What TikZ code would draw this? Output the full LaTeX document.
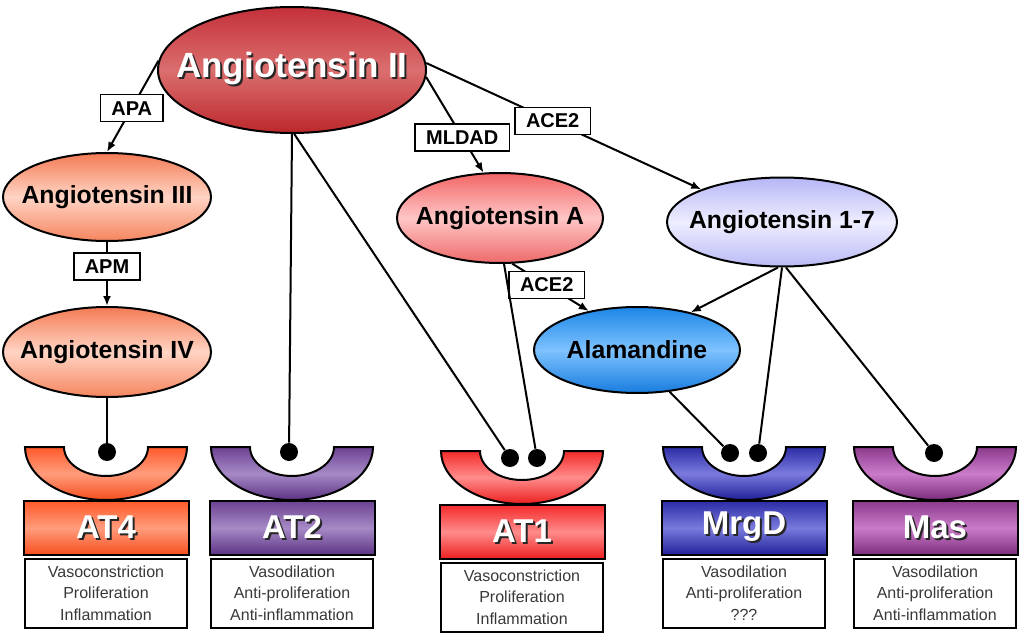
\documentclass[tikz,border=0pt]{standalone}
\usepackage{fontspec}
\setmainfont{Liberation Sans}
\usetikzlibrary{shapes.geometric, arrows.meta}

% Peptide colours (top / middle / bottom)
\definecolor{topangII}{HTML}{C4303A}
\definecolor{midangII}{HTML}{DA6E6E}
\definecolor{botangII}{HTML}{BC282C}
\definecolor{topangIII}{HTML}{F47B55}
\definecolor{midangIII}{HTML}{FFD4C4}
\definecolor{botangIII}{HTML}{F5855F}
\definecolor{topangA}{HTML}{F26565}
\definecolor{midangA}{HTML}{FFC6C6}
\definecolor{botangA}{HTML}{EE6A6A}
\definecolor{topang17}{HTML}{B6B6F6}
\definecolor{midang17}{HTML}{EEEEFF}
\definecolor{botang17}{HTML}{BABAF6}
\definecolor{topalam}{HTML}{1C86E6}
\definecolor{midalam}{HTML}{7EC2FF}
\definecolor{botalam}{HTML}{187CDE}

% Receptor colours (top / middle / bottom)
\definecolor{topat4}{HTML}{FF5A2A}
\definecolor{midat4}{HTML}{FF9C7C}
\definecolor{botat4}{HTML}{F64E1E}
\definecolor{topat2}{HTML}{6C4292}
\definecolor{midat2}{HTML}{A68AC6}
\definecolor{botat2}{HTML}{5C3284}
\definecolor{topat1}{HTML}{F42A2A}
\definecolor{midat1}{HTML}{FF8C8C}
\definecolor{botat1}{HTML}{EC1E1E}
\definecolor{topmrgd}{HTML}{2C2CA6}
\definecolor{midmrgd}{HTML}{7A7ADE}
\definecolor{botmrgd}{HTML}{202098}
\definecolor{topmas}{HTML}{8C3A8C}
\definecolor{midmas}{HTML}{CA7CCA}
\definecolor{botmas}{HTML}{7C2C7C}

\newcommand{\shadowed}[1]{\makebox[0pt][l]{\hspace{1pt}\raisebox{-1pt}{\textcolor{black!85}{#1}}}\textcolor{white}{#1}}
\newcommand{\pep}[1]{\makebox[0pt]{#1}}

\tikzset{
  peptide/.style={ellipse, draw, line width=1pt, inner sep=0pt,
    font=\bfseries\fontsize{12.4}{14}\selectfont},
  enzyme/.style={rectangle, draw, line width=0.8pt, fill=white, inner xsep=5.5pt,
    inner ysep=0pt, minimum height=13.5pt, font=\bfseries\fontsize{10}{12}\selectfont},
  receptor/.style={rectangle, draw, line width=1pt, minimum width=82.5pt,
    minimum height=27pt, font=\bfseries\fontsize{16.5}{18}\selectfont},
  effect/.style={rectangle, draw, line width=1pt, minimum width=81pt, minimum height=34.5pt,
    inner ysep=1pt, align=center, text=black!78, font=\fontsize{8}{10.85}\selectfont},
  ligand/.style={circle, fill=black, inner sep=0pt, minimum size=9pt},
  link/.style={line width=1pt},
  cleave/.style={line width=1pt, -{Latex[length=5pt, width=4pt]}},
}

\begin{document}
\begin{tikzpicture}[x=0.5pt, y=-0.5pt]
    \useasboundingbox (0,0) rectangle (1024,637);

    % Receptors: cup, name box and effects
    \foreach \name/\c/\t/\lbl/\la/\lb/\lc in {
        at4/106/447/AT4/Vasoconstriction/Proliferation/Inflammation,
        at2/292/447/AT2/Vasodilation/Anti-proliferation/Anti-inflammation,
        at1/522/451/AT1/Vasoconstriction/Proliferation/Inflammation,
        mrgd/744/447/MrgD/Vasodilation/Anti-proliferation/???,
        mas/935/447/Mas/Vasodilation/Anti-proliferation/Anti-inflammation} {
      \draw[line width=1pt, top color=top\name, bottom color=bot\name, middle color=mid\name]
        (\c-81,\t) -- (\c-42,\t) arc[start angle=180, end angle=0, x radius=42, y radius=29]
        -- (\c+81,\t) arc[start angle=0, end angle=180, x radius=81, y radius=53] -- cycle;
      \node[receptor, top color=top\name, bottom color=bot\name, middle color=mid\name]
        (\name) at (\c,\t+81) {\shadowed{\lbl}};
      \node[effect] (\name fx) at (\c,\t+146) {\la\\\lb\\\lc};
    }

    % Peptides
    \node[peptide, minimum width=134pt, minimum height=63pt, font=\bfseries\fontsize{17.5}{20}\selectfont,
      top color=topangII, bottom color=botangII, middle color=midangII] (angII) at (292,70) {\pep{\shadowed{Angiotensin II}}};
    \node[peptide, minimum width=104pt, minimum height=44pt,
      top color=topangIII, bottom color=botangIII, middle color=midangIII] (angIII) at (107,197) {\pep{Angiotensin III}};
    \node[peptide, minimum width=104pt, minimum height=45pt,
      top color=topangIII, bottom color=botangIII, middle color=midangIII] (angIV) at (107,352) {\pep{Angiotensin IV}};
    \node[peptide, minimum width=103pt, minimum height=45pt,
      top color=topangA, bottom color=botangA, middle color=midangA] (angA) at (500,218) {\pep{Angiotensin A}};
    \node[peptide, minimum width=115pt, minimum height=44.5pt,
      top color=topang17, bottom color=botang17, middle color=midang17] (ang17) at (782,222) {\pep{Angiotensin 1-7}};
    \node[peptide, minimum width=103pt, minimum height=43pt,
      top color=topalam, bottom color=botalam, middle color=midalam] (alam) at (637,350) {\pep{Alamandine}};

    % Ligand ends
    \foreach \n/\x/\y in {l4/107/452, l2/289/452, l1a/510/458, l1b/537/458,
        lma/730/453, lmb/758/453, lmas/934/453} {
      \node[ligand] (\n) at (\x,\y) {};
    }

    % Conversions
    \draw[cleave] (angII.176) -- node[enzyme, pos=0.52] (apa) {APA} (angIII.north);
    \draw[cleave] (angIII.south) -- node[enzyme, pos=0.38] (apm) {APM} (angIV.north);
    \draw[cleave] (angII.-3) -- node[enzyme, pos=0.63] (mldad) {MLDAD} (angA.110);
    \draw[cleave] (angII.3) -- node[enzyme, pos=0.46] (ace2a) {ACE2} (ang17.158);
    \draw[cleave] (angA.-75) -- node[enzyme, pos=0.45] (ace2b) {ACE2} (alam.141);
    \draw[cleave] (ang17.-95) -- (alam.35);

    % Binding
    \draw[link] (angIV.south) -- (l4);
    \draw[link] (angII.south) -- (l2);
    \draw[link] (angII.-88) -- (l1a);
    \draw[link] (angA.-85) -- (l1b);
    \draw[link] (alam.-52) -- (lma);
    \draw[link] (ang17.-90) -- (lmb);
    \draw[link] (ang17.-85) -- (lmas);

\end{tikzpicture}
\end{document}
